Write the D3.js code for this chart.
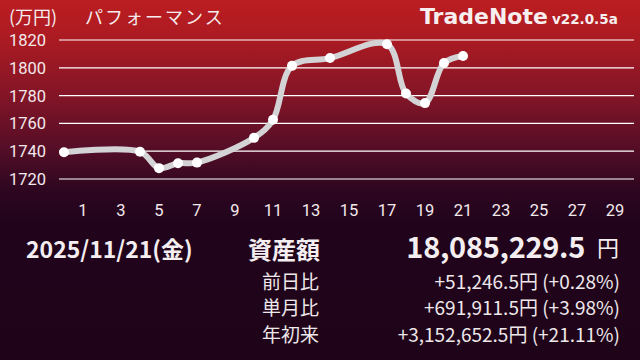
<!DOCTYPE html>
<html><head><meta charset="utf-8">
<script src="https://cdn.jsdelivr.net/npm/d3@7/dist/d3.min.js"></script>
<style>html,body{margin:0;padding:0;background:#1f0419;}svg{display:block;}</style>
</head><body>
<script>
// Data
const days   = [0, 4, 5, 6, 7, 10, 11, 12, 14, 17, 18, 19, 20, 21];
const values = [1739.2, 1739.6, 1727.8, 1731.3, 1731.8, 1749.6, 1762.6, 1801.4, 1807.0, 1817.0, 1781.5, 1774.6, 1803.4, 1808.5];
const yTicks = [1720, 1740, 1760, 1780, 1800, 1820];
const xTicks = [1, 3, 5, 7, 9, 11, 13, 15, 17, 19, 21, 23, 25, 27, 29];
const unitLabel = "(万円)";
const titleLabel = "パフォーマンス";
const brand = "TradeNote";
const version = "v22.0.5a";
const dateLabel = "2025/11/21(金)";
const totalLabel = "資産額";
const totalValue = "18,085,229.5";
const yen = "円";
const rowLabels = ["前日比", "単月比", "年初来"];
const rowValues = ["+51,246.5円 (+0.28%)", "+691,911.5円 (+3.98%)", "+3,152,652.5円 (+21.11%)"];

const W = 640, H = 360;
const svg = d3.select("body").append("svg").attr("width", W).attr("height", H);

const defs = svg.append("defs");
const grad = defs.append("linearGradient").attr("id", "bg").attr("x1", 0).attr("y1", 0).attr("x2", 0).attr("y2", 1);
[[0, "#bb1d21"], [0.1, "#ad1b22"], [0.28, "#7f1427"], [0.42, "#520d26"], [0.53, "#2d0620"], [0.62, "#21041c"], [1, "#1f0419"]]
  .forEach(([o, c]) => grad.append("stop").attr("offset", o).attr("stop-color", c));
svg.append("rect").attr("width", W).attr("height", H).attr("fill", "url(#bg)");

const x = d3.scaleLinear().domain([0, 30]).range([64, 634]);
const y = d3.scaleLinear().domain([1720, 1820]).range([179, 40]);

// gridlines
svg.append("g").selectAll("line").data(yTicks).join("line")
  .attr("x1", 59).attr("x2", 634)
  .attr("y1", d => y(d)).attr("y2", d => y(d))
  .attr("stroke", "#ffffff").attr("stroke-width", 1.2);

// y labels
svg.append("g").selectAll("text").data(yTicks).join("text")
  .attr("x", 9).attr("y", d => y(d) + 6)
  .attr("font-family", "Roboto").attr("font-size", 16.5).attr("fill", "#f2e9ec")
  .text(d => d);

// x labels
svg.append("g").selectAll("text").data(xTicks).join("text")
  .attr("x", d => x(d)).attr("y", 216).attr("text-anchor", "middle")
  .attr("font-family", "Roboto").attr("font-size", 16.5).attr("fill", "#f2e9ec")
  .text(d => d);

// line
const pts = days.map((d, i) => [d, values[i]]);
const line = d3.line().x(d => x(d[0])).y(d => y(d[1])).curve(d3.curveCatmullRom.alpha(0.5));
svg.append("path").attr("d", line(pts)).attr("fill", "none")
  .attr("stroke", "#d3d3d6").attr("stroke-width", 6).attr("stroke-linecap", "round").attr("stroke-linejoin", "round");
svg.append("g").selectAll("circle").data(pts).join("circle")
  .attr("cx", d => x(d[0])).attr("cy", d => y(d[1])).attr("r", 5).attr("fill", "#ffffff");

// header
svg.append("text").attr("x", 9).attr("y", 24).attr("font-family", "Noto Sans CJK JP").attr("font-size", 18)
  .attr("fill", "#f4ecee").text(unitLabel);
svg.append("text").attr("x", 85).attr("y", 24).attr("font-family", "Noto Sans CJK JP").attr("font-size", 18)
  .attr("letter-spacing", 2).attr("fill", "#f4ecee").text(titleLabel);
svg.append("text").attr("x", 420).attr("y", 24).attr("font-family", "DejaVu Sans").attr("font-weight", "bold")
  .attr("font-size", 22).attr("fill", "#f6eeef").text(brand);
svg.append("text").attr("x", 552).attr("y", 24).attr("font-family", "DejaVu Sans").attr("font-weight", "bold")
  .attr("font-size", 13.5).attr("fill", "#f6eeef").text(version);

// bottom info
const jp = "Noto Sans CJK JP";
svg.append("text").attr("x", 26).attr("y", 258).attr("font-family", jp).attr("font-weight", "bold")
  .attr("font-size", 23).attr("fill", "#f4eef0").text(dateLabel);
svg.append("text").attr("x", 320).attr("y", 259).attr("text-anchor", "end").attr("font-family", jp).attr("font-weight", "bold")
  .attr("font-size", 24).attr("fill", "#f4eef0").text(totalLabel);
svg.append("text").attr("x", 585).attr("y", 258).attr("text-anchor", "end").attr("font-family", jp).attr("font-weight", "bold")
  .attr("font-size", 29).attr("letter-spacing", -0.3).attr("fill", "#f4eef0").text(totalValue);
svg.append("text").attr("x", 597).attr("y", 256).attr("font-family", jp)
  .attr("font-size", 22).attr("fill", "#f4eef0").text(yen);

const rowY = [288.5, 315, 341.5];
svg.append("g").selectAll("text").data(rowLabels).join("text")
  .attr("x", 319).attr("y", (d, i) => rowY[i]).attr("text-anchor", "end")
  .attr("font-family", jp).attr("font-size", 19).attr("fill", "#eee8ea").text(d => d);
svg.append("g").selectAll("text").data(rowValues).join("text")
  .attr("x", 620).attr("y", (d, i) => rowY[i]).attr("text-anchor", "end")
  .attr("font-family", jp).attr("font-size", 19).attr("fill", "#eee8ea").text(d => d);
</script>
</body></html>
